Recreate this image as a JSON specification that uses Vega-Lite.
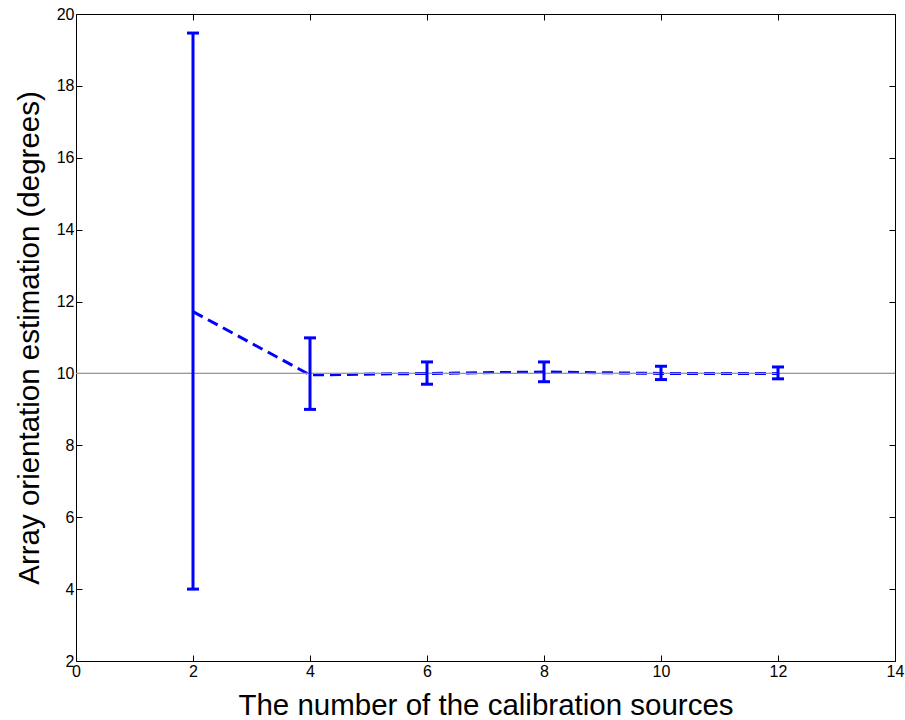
{
  "$schema": "https://vega.github.io/schema/vega-lite/v6.json",
  "width": 819,
  "height": 647,
  "autosize": {"type": "none"},
  "padding": {"left": 76, "top": 14, "right": 10, "bottom": 59},
  "background": "white",
  "config": {
    "view": {"stroke": "black", "strokeWidth": 1},
    "font": "Liberation Sans",
    "axis": {
      "grid": false,
      "domain": false,
      "tickColor": "black",
      "tickSize": -6,
      "tickWidth": 1,
      "labelColor": "black",
      "labelFont": "Liberation Sans",
      "labelFontSize": 16,
      "titleFont": "Liberation Sans",
      "titleFontSize": 29.5,
      "titleFontWeight": "normal",
      "titleColor": "black"
    }
  },
  "data": {
    "values": [
      {"n": 2, "mean": 11.72, "lo": 4.0, "hi": 19.47},
      {"n": 4, "mean": 9.96, "lo": 9.0, "hi": 10.99},
      {"n": 6, "mean": 10.0, "lo": 9.7, "hi": 10.32},
      {"n": 8, "mean": 10.04, "lo": 9.77, "hi": 10.32},
      {"n": 10, "mean": 10.0, "lo": 9.83, "hi": 10.2},
      {"n": 12, "mean": 10.0, "lo": 9.85, "hi": 10.18}
    ]
  },
  "layer": [
    {
      "mark": {"type": "line", "color": "#0000FF", "strokeWidth": 3, "strokeDash": [11, 6]},
      "encoding": {
        "x": {
          "field": "n", "type": "quantitative",
          "scale": {"domain": [0, 14], "nice": false, "zero": false},
          "axis": {"values": [0, 2, 4, 6, 8, 10, 12, 14], "format": "d", "title": "The number of the calibration sources", "labelPadding": 8, "titlePadding": 12, "labelFlush": false}
        },
        "y": {
          "field": "mean", "type": "quantitative",
          "scale": {"domain": [2, 20], "nice": false, "zero": false},
          "axis": {"values": [2, 4, 6, 8, 10, 12, 14, 16, 18, 20], "format": "d", "title": "Array orientation estimation (degrees)", "labelPadding": 8, "titlePadding": 12, "labelFlush": false}
        }
      }
    },
    {
      "mark": {"type": "rule", "color": "#999999", "strokeWidth": 1},
      "encoding": {"y": {"datum": 10, "type": "quantitative", "axis": null}}
    },
    {
      "mark": {"type": "rule", "color": "#0000FF", "strokeWidth": 3},
      "encoding": {
        "x": {"field": "n", "type": "quantitative", "axis": null},
        "y": {"field": "lo", "type": "quantitative", "axis": null},
        "y2": {"field": "hi"}
      }
    },
    {
      "mark": {"type": "tick", "color": "#0000FF", "orient": "horizontal", "size": 12, "thickness": 3, "opacity": 1},
      "encoding": {
        "x": {"field": "n", "type": "quantitative", "axis": null},
        "y": {"field": "lo", "type": "quantitative", "axis": null}
      }
    },
    {
      "mark": {"type": "tick", "color": "#0000FF", "orient": "horizontal", "size": 12, "thickness": 3, "opacity": 1},
      "encoding": {
        "x": {"field": "n", "type": "quantitative", "axis": {"orient": "top", "labels": false, "title": null, "values": [0, 2, 4, 6, 8, 10, 12, 14]}},
        "y": {"field": "hi", "type": "quantitative", "axis": {"orient": "right", "labels": false, "title": null, "values": [2, 4, 6, 8, 10, 12, 14, 16, 18, 20]}}
      }
    }
  ],
  "resolve": {"axis": {"x": "independent", "y": "independent"}}
}
